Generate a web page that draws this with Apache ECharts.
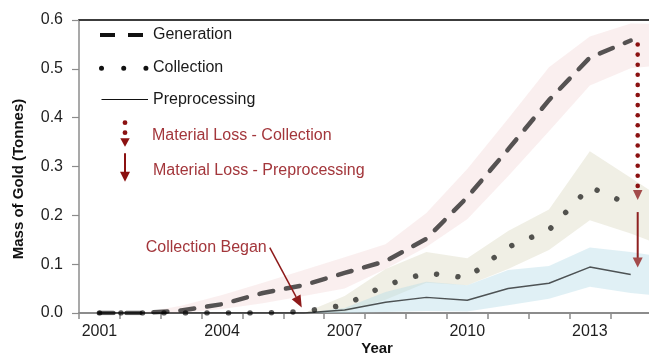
<!DOCTYPE html>
<html>
<head>
<meta charset="utf-8">
<script src="https://cdn.jsdelivr.net/npm/echarts@6/dist/echarts.min.js"></script>
<style>
  html, body { margin: 0; padding: 0; background: #ffffff; }
  #chart { width: 649px; height: 353px; }
</style>
</head>
<body>
<div id="chart"></div>
<script>
// Years on the category axis (the range bands run one year past the lines)
const years = ['2001', '2002', '2003', '2004', '2005', '2006', '2007',
               '2008', '2009', '2010', '2011', '2012', '2013', '2014', '2015'];

// Mass of gold (tonnes) for each stage
const generation    = [0, 0, 0.005, 0.018, 0.041, 0.057, 0.082, 0.106, 0.152, 0.237, 0.335, 0.436, 0.523, 0.558, null];
const collection    = [0, 0, 0, 0, 0, 0.003, 0.016, 0.057, 0.082, 0.072, 0.135, 0.170, 0.258, 0.221, null];
const preprocessing = [0, 0, 0, 0, 0, 0, 0.006, 0.022, 0.032, 0.026, 0.050, 0.061, 0.094, 0.079, null];

// Uncertainty ranges (lower / upper bounds)
const generationLow     = [0, 0, 0, 0.008, 0.020, 0.035, 0.050, 0.090, 0.135, 0.192, 0.280, 0.372, 0.466, 0.501, 0.510];
const generationHigh    = [0, 0, 0.015, 0.037, 0.062, 0.088, 0.114, 0.141, 0.205, 0.295, 0.398, 0.503, 0.566, 0.593, 0.592];
const collectionLow     = [0, 0, 0, 0, 0, 0, 0.002, 0.027, 0.062, 0.057, 0.090, 0.129, 0.190, 0.163, 0.130];
const collectionHigh    = [0, 0, 0, 0, 0, 0, 0.035, 0.090, 0.125, 0.112, 0.168, 0.212, 0.331, 0.277, 0.222];
const preprocessingLow  = [0, 0, 0, 0, 0, 0, 0, 0.002, 0.004, 0.003, 0.016, 0.029, 0.054, 0.041, 0.033];
const preprocessingHigh = [0, 0, 0, 0, 0, 0, 0.010, 0.043, 0.064, 0.057, 0.088, 0.096, 0.134, 0.125, 0.112];

// Value axis range and step
const yMin = 0;
const yMax = 0.6;
const yStep = 0.1;

// Text
const yTitle = 'Mass of Gold (Tonnes)';
const xTitle = 'Year';
const legendNames = ['Generation', 'Collection', 'Preprocessing'];
const lossNames = ['Material Loss - Collection', 'Material Loss - Preprocessing'];
const startNote = 'Collection Began';
const startIndex = 5; // 2006
const lastIndex = 13; // 2014, last year with stage values

const FONT = '"Liberation Sans", Arial, Helvetica, sans-serif';
const LINE_INK = 'rgba(0,0,0,0.66)';
const LOSS_RED = '#8b1111';
const LOSS_HEAD = '#a34b4b';
const NOTE_RED = '#a3363b';
const AXIS_GREY = '#8c8c8c';

function bandSeries(key, low, high, fill) {
  return [
    {
      type: 'line', name: key + '-base', stack: key, data: low,
      symbol: 'none', silent: true, z: 1,
      lineStyle: { width: 0, opacity: 0 }
    },
    {
      type: 'line', name: key + '-range', stack: key,
      data: high.map((h, i) => +(h - low[i]).toFixed(4)),
      symbol: 'none', silent: true, z: 1,
      lineStyle: { width: 0, opacity: 0 },
      areaStyle: { color: fill, opacity: 1 }
    }
  ];
}

const chart = echarts.init(document.getElementById('chart'), null, { renderer: 'canvas' });

const option = {
  animation: false,
  backgroundColor: '#ffffff',
  textStyle: { fontFamily: FONT },
  // the plot runs past the right edge of the canvas, so no fitting to the container
  grid: { left: 79, top: 20, width: 613, height: 293, containLabel: false, outerBoundsMode: 'none' },
  xAxis: [
    {
      type: 'category',
      data: years,
      boundaryGap: true,
      axisLine: { lineStyle: { color: AXIS_GREY, width: 2 } },
      axisTick: { show: true, interval: 0, length: 6, lineStyle: { color: AXIS_GREY, width: 1.5 } },
      axisLabel: { interval: 2, margin: 11, fontSize: 16, color: '#1e1e1e', fontFamily: FONT },
      splitLine: { show: false }
    },
    {
      type: 'category',
      data: years,
      position: 'top',
      axisLine: { lineStyle: { color: '#3c3c3c', width: 2 } },
      axisTick: { show: false },
      axisLabel: { show: false },
      splitLine: { show: false }
    }
  ],
  yAxis: {
    type: 'value',
    min: yMin,
    max: yMax,
    interval: yStep,
    axisLine: { show: true, lineStyle: { color: AXIS_GREY, width: 1.5 } },
    axisTick: { show: true, length: 7, lineStyle: { color: AXIS_GREY, width: 1.2 } },
    axisLabel: {
      margin: 16, fontSize: 16, color: '#1e1e1e', fontFamily: FONT,
      formatter: v => v.toFixed(1)
    },
    splitLine: { show: false }
  },
  series: [
    ...bandSeries('gen', generationLow, generationHigh, 'rgba(242,218,217,0.42)'),
    ...bandSeries('col', collectionLow, collectionHigh, 'rgba(218,214,190,0.40)'),
    ...bandSeries('pre', preprocessingLow, preprocessingHigh, 'rgba(180,220,232,0.42)'),
    {
      type: 'line', name: legendNames[2], data: preprocessing,
      symbol: 'none', z: 3,
      lineStyle: { color: LINE_INK, width: 1.5 }
    },
    {
      type: 'line', name: legendNames[1], data: collection,
      symbol: 'none', z: 4,
      lineStyle: { color: LINE_INK, width: 5.5, type: [0.01, 21.5], cap: 'round' }
    },
    {
      type: 'line', name: legendNames[0], data: generation,
      symbol: 'none', z: 5,
      lineStyle: { color: LINE_INK, width: 4.5, type: [14, 13], cap: 'round' }
    }
  ]
};

chart.setOption(option);

// ---- annotations placed from data coordinates ----
const px = (i, v) => chart.convertToPixel({ xAxisIndex: 0, yAxisIndex: 0 }, [i, v]);

function headDown(x, tipY, w, h, color) {
  return {
    type: 'polygon', z: 20,
    shape: { points: [[x - w / 2, tipY - h], [x + w / 2, tipY - h], [x, tipY]] },
    style: { fill: color }
  };
}

const g = [];

// Legend block
const lgX = 100, txtX = 153;
g.push({ type: 'line', z: 20, shape: { x1: lgX, y1: 35, x2: lgX + 43, y2: 35 },
         style: { stroke: '#111', lineWidth: 4, lineDash: [15, 13] } });
g.push({ type: 'line', z: 20, shape: { x1: lgX + 1.5, y1: 68.3, x2: lgX + 46, y2: 68.3 },
         style: { stroke: '#111', lineWidth: 5, lineDash: [0.01, 22.2], lineCap: 'round' } });
g.push({ type: 'line', z: 20, shape: { x1: lgX + 1.5, y1: 99.5, x2: lgX + 48, y2: 99.5 },
         style: { stroke: '#111', lineWidth: 1.2 } });
[35, 68, 100].forEach((y, k) => {
  g.push({ type: 'text', z: 20, x: txtX, y: y,
           style: { text: legendNames[k], font: '16px ' + FONT, fill: '#1a1a1a',
                    align: 'left', verticalAlign: 'middle' } });
});

// Legend loss markers
const lx = 125;
g.push({ type: 'circle', z: 20, shape: { cx: lx, cy: 122.7, r: 2.4 }, style: { fill: LOSS_RED } });
g.push({ type: 'circle', z: 20, shape: { cx: lx, cy: 132.7, r: 2.4 }, style: { fill: LOSS_RED } });
g.push(headDown(lx, 146.7, 9.5, 8.5, LOSS_RED));
g.push({ type: 'line', z: 20, shape: { x1: lx, y1: 153.3, x2: lx, y2: 173 },
         style: { stroke: LOSS_RED, lineWidth: 2 } });
g.push(headDown(lx, 181.7, 10, 10, LOSS_RED));
g.push({ type: 'text', z: 20, x: 152, y: 136,
         style: { text: lossNames[0], font: '16px ' + FONT, fill: NOTE_RED, align: 'left', verticalAlign: 'middle' } });
g.push({ type: 'text', z: 20, x: 153, y: 171,
         style: { text: lossNames[1], font: '16px ' + FONT, fill: NOTE_RED, align: 'left', verticalAlign: 'middle' } });

// Loss arrows at the last year with stage values
const pGen = px(lastIndex, generation[lastIndex]);
const pCol = px(lastIndex, collection[lastIndex]);
const pPre = px(lastIndex, preprocessing[lastIndex]);
const ax = pGen[0] + 7;

// collection loss: dotted arrow from generation down to collection
const dotTip = pCol[1] - 5;
const dotHeadH = 10;
for (let y = pGen[1] + 4; y <= dotTip - dotHeadH - 4; y += 10.1) {
  g.push({ type: 'circle', z: 20, shape: { cx: ax, cy: y, r: 2.3 }, style: { fill: LOSS_RED } });
}
g.push(headDown(ax, dotTip, 9.5, dotHeadH, LOSS_HEAD));

// preprocessing loss: solid arrow from collection down to preprocessing
const solidTip = pPre[1] - 7;
g.push({ type: 'line', z: 20, shape: { x1: ax, y1: pCol[1] + 7, x2: ax, y2: solidTip - 8 },
         style: { stroke: '#8e2020', lineWidth: 2 } });
g.push(headDown(ax, solidTip, 10, 10, LOSS_HEAD));

// "Collection Began" note pointing at the first collection year
const pStart = px(startIndex, collection[startIndex]);
const tip = [pStart[0] - 2, pStart[1] - 4];
const tail = [tip[0] - 32, tip[1] - 60];
const dx = tip[0] - tail[0], dy = tip[1] - tail[1];
const len = Math.hypot(dx, dy);
const ux = dx / len, uy = dy / len;
const hl = 12, hw = 5;
const base = [tip[0] - ux * hl, tip[1] - uy * hl];
g.push({ type: 'line', z: 20, shape: { x1: tail[0], y1: tail[1], x2: base[0], y2: base[1] },
         style: { stroke: '#8e1a1a', lineWidth: 1.5 } });
g.push({ type: 'polygon', z: 20,
         shape: { points: [tip, [base[0] - uy * hw, base[1] + ux * hw], [base[0] + uy * hw, base[1] - ux * hw]] },
         style: { fill: '#8e1a1a' } });
g.push({ type: 'text', z: 20, x: tail[0] - 3, y: tail[1],
         style: { text: startNote, font: '16px ' + FONT, fill: NOTE_RED, align: 'right', verticalAlign: 'middle' } });

// Axis titles
const midX = (px(0, 0)[0] + px(lastIndex, 0)[0]) / 2 + 12;
g.push({ type: 'text', z: 20, x: midX, y: 349,
         style: { text: xTitle, font: 'bold 15px ' + FONT, fill: '#111', align: 'center', verticalAlign: 'middle' } });
g.push({ type: 'text', z: 20, x: 18.5, y: 179, rotation: Math.PI / 2,
         style: { text: yTitle, font: 'bold 15px ' + FONT, fill: '#111', align: 'center', verticalAlign: 'middle' } });

chart.setOption({ graphic: g });
</script>
</body>
</html>
